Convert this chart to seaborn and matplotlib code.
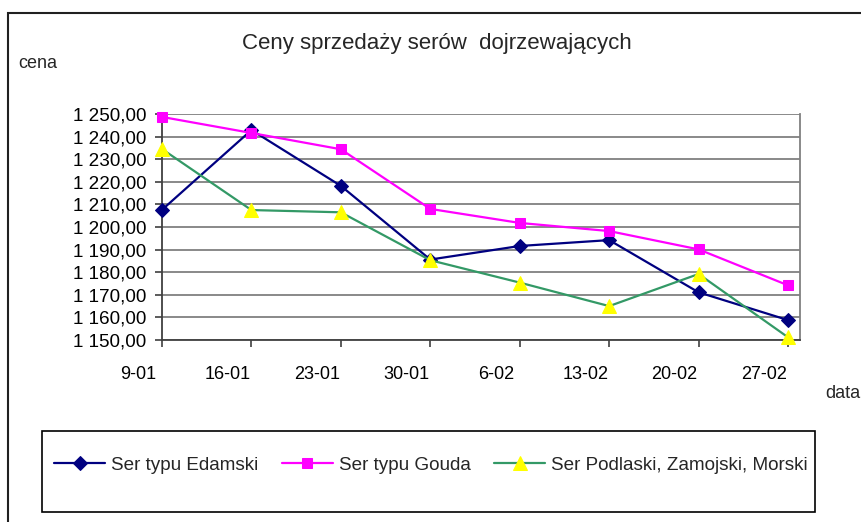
import matplotlib
matplotlib.use("Agg")
import matplotlib.pyplot as plt
import matplotlib.transforms as mtransforms
from matplotlib.patches import Rectangle
from matplotlib.ticker import FixedLocator, FuncFormatter
import seaborn as sns
import pandas as pd

dates = ["9-01", "16-01", "23-01", "30-01", "6-02", "13-02", "20-02", "27-02"]
edamski = [1207.6, 1242.9, 1218.2, 1185.6, 1191.6, 1194.2, 1171.1, 1158.8]
gouda = [1248.7, 1241.6, 1234.4, 1208.0, 1201.8, 1198.2, 1190.1, 1174.2]
podlaski = [1234.5, 1207.5, 1206.5, 1185.3, 1175.4, 1165.0, 1179.2, 1151.2]
series_names = ["Ser typu Edamski", "Ser typu Gouda", "Ser Podlaski, Zamojski, Morski"]
y_ticks = [1150, 1160, 1170, 1180, 1190, 1200, 1210, 1220, 1230, 1240, 1250]

sns.set_style("white")
plt.rcParams["font.family"] = ["Liberation Sans", "DejaVu Sans"]

fig = plt.figure(figsize=(8.62, 5.22), dpi=100)
W, H = 862, 522
ax = fig.add_axes([162 / W, 1 - 340 / H, (800 - 162) / W, (340 - 114) / H])

styles = [
    dict(color="#000080", marker="D", markersize=7.5, markerfacecolor="#000080", markeredgecolor="#000080"),
    dict(color="#FF00FF", marker="s", markersize=7.5, markerfacecolor="#FF00FF", markeredgecolor="#FF00FF"),
    dict(color="#339966", marker="^", markersize=9.5, markerfacecolor="#FFFF00", markeredgecolor="#FFFF00"),
]
for name, vals, st in zip(series_names, [edamski, gouda, podlaski], styles):
    df = pd.DataFrame({"data": dates, "cena": vals})
    sns.lineplot(data=df, x="data", y="cena", ax=ax, sort=False, linewidth=1.6,
                 label=name, legend=False, clip_on=False, zorder=3, **st)

ax.set_xlim(0, 7.134)
ax.set_ylim(1150, 1250)
ax.yaxis.set_major_locator(FixedLocator(y_ticks))
ax.yaxis.set_major_formatter(FuncFormatter(lambda v, p: ("%d %03d,00" % (int(v) // 1000, int(v) % 1000))))
ax.set_xticks(range(len(dates)))
ax.set_xticklabels(dates)
ax.grid(axis="y", color="#808080", linewidth=1.3)
ax.grid(axis="x", visible=False)
ax.set_axisbelow(True)
ax.set_xlabel("")
ax.set_ylabel("")
ax.spines["top"].set_visible(False)
ax.spines["right"].set_color("#808080")
ax.spines["right"].set_linewidth(1.3)
ax.spines["left"].set_color("#404040")
ax.spines["bottom"].set_color("#404040")
ax.spines["left"].set_linewidth(1.3)
ax.spines["bottom"].set_linewidth(1.3)
ax.tick_params(axis="both", direction="out", length=5, width=1.2, color="#404040",
               labelcolor="black", bottom=True, left=True)
ax.tick_params(axis="x", pad=13.5, labelsize=13)
ax.tick_params(axis="y", pad=6, labelsize=13.6)
offset = mtransforms.ScaledTranslation(-24 / 100, 0, fig.dpi_scale_trans)
for lbl in ax.get_xticklabels():
    lbl.set_transform(lbl.get_transform() + offset)

# outer chart border
fig.patches.append(Rectangle((8 / W, -0.1), 1.2, 1 - 13 / H + 0.1, transform=fig.transFigure,
                             fill=False, edgecolor="#202020", linewidth=1.5))

fig.text(437 / W, 1 - 44 / H, "Ceny sprzedaży serów  dojrzewających", ha="center", va="center", fontsize=16)
fig.text(18 / W, 1 - 64 / H, "cena", ha="left", va="center", fontsize=13)
fig.text(825 / W, 1 - 393 / H, "data", ha="left", va="center", fontsize=13)

# legend box
fig.patches.append(Rectangle((42 / W, 1 - 512 / H), (815 - 42) / W, (512 - 431) / H,
                             transform=fig.transFigure, fill=False, edgecolor="black", linewidth=1.2))
handles = ax.lines[:3]
fig.legend(handles, series_names, loc="center left", bbox_to_anchor=(54 / W, 1 - 465 / H),
           ncol=3, frameon=False, fontsize=13.6, handlelength=2.7, handletextpad=0.32,
           columnspacing=1.25, borderpad=0, borderaxespad=0)

fig.savefig("out.png", dpi=100)
